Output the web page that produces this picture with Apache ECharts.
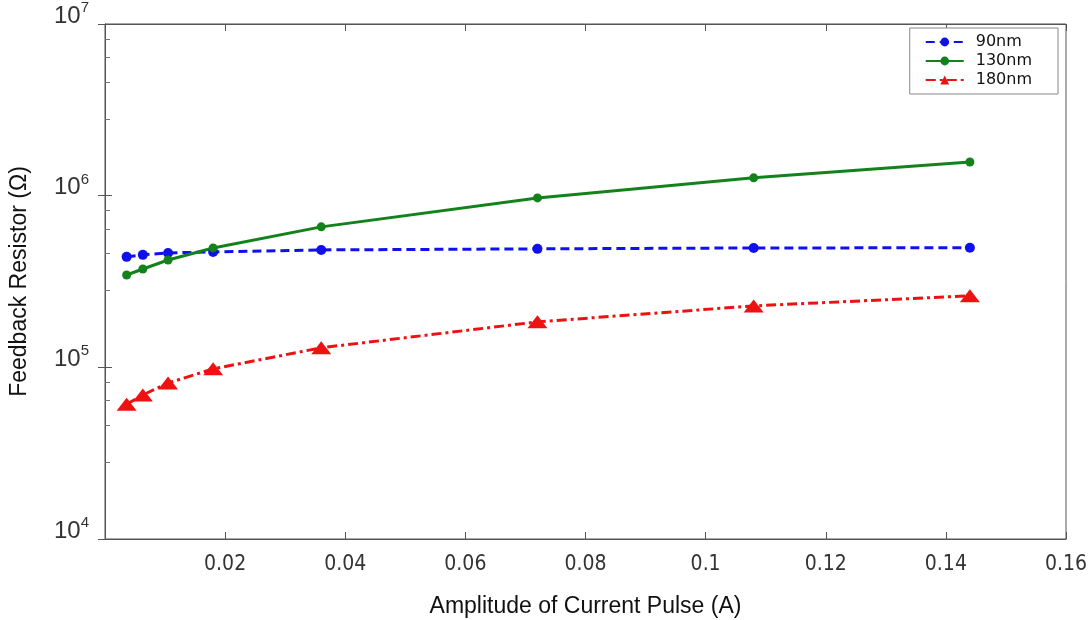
<!DOCTYPE html>
<html>
<head>
<meta charset="utf-8">
<script src="https://cdn.jsdelivr.net/npm/echarts@6/dist/echarts.min.js"></script>
<style>
  html, body { margin: 0; padding: 0; background: #fff; }
  #chart { width: 1091px; height: 620px; }
</style>
</head>
<body>
<div id="chart"></div>
<script>
// pulse amplitudes (A)
const amps = [0.0036, 0.0063, 0.0105, 0.018, 0.036, 0.072, 0.108, 0.144];
// feedback resistor values (ohm)
const r90 = [4.40e5, 4.52e5, 4.64e5, 4.70e5, 4.83e5, 4.90e5, 4.96e5, 4.97e5];
const r130 = [3.45e5, 3.74e5, 4.22e5, 4.96e5, 6.58e5, 9.7e5, 1.27e6, 1.57e6];
const r180 = [6.1e4, 6.9e4, 8.1e4, 9.8e4, 1.30e5, 1.84e5, 2.28e5, 2.61e5];
const seriesNames = ['90nm', '130nm', '180nm'];

const pairs = ys => amps.map((x, i) => [x, ys[i]]);

const chart = echarts.init(document.getElementById('chart'));

const tickFont = 'DejaVu Sans Condensed, Liberation Sans Narrow, sans-serif';
const textFont = 'Liberation Sans, Arial, sans-serif';

chart.setOption({
    animation: false,
    grid: {
        left: 105, right: 25, top: 24, bottom: 81,
        outerBoundsMode: 'none',
        show: true, borderColor: '#555', borderWidth: 1
    },
    legend: {
        orient: 'vertical',
        right: 33,
        top: 28,
        itemWidth: 38,
        itemHeight: 11,
        itemGap: 3,
        padding: [6, 26, 6, 15],
        borderColor: '#888',
        borderWidth: 1,
        backgroundColor: '#fff',
        textStyle: { fontFamily: 'DejaVu Sans, sans-serif', fontSize: 16, color: '#111', padding: [0, 0, 0, 7] },
        data: seriesNames
    },
    xAxis: [
        {
            type: 'value',
            min: 0,
            max: 0.16,
            interval: 0.02,
            name: 'Amplitude of Current Pulse (A)',
            nameLocation: 'middle',
            nameGap: 56,
            nameTextStyle: { fontFamily: textFont, fontSize: 23, color: '#111' },
            axisLine: { lineStyle: { color: '#555' } },
            axisTick: { inside: true, length: 7, lineStyle: { color: '#555' } },
            axisLabel: {
                showMinLabel: false,
                margin: 15,
                fontFamily: tickFont,
                fontSize: 21,
                color: '#333',
                formatter: v => String(+v.toFixed(2))
            },
            splitLine: { show: false }
        },
        {
            type: 'value', position: 'top', min: 0, max: 0.16, interval: 0.02,
            axisLine: { lineStyle: { color: '#555' } },
            axisTick: { inside: true, length: 7, lineStyle: { color: '#555' } },
            axisLabel: { show: false },
            splitLine: { show: false }
        }
    ],
    yAxis: [
        {
            type: 'log',
            min: 1e4,
            max: 1e7,
            logBase: 10,
            name: 'Feedback Resistor (Ω)',
            nameLocation: 'middle',
            nameGap: 74,
            nameTextStyle: { fontFamily: textFont, fontSize: 23, color: '#111' },
            axisLine: { lineStyle: { color: '#555' } },
            axisTick: { inside: true, length: 7, lineStyle: { color: '#555' } },
            minorTick: { show: true, splitNumber: 5, length: 5, lineStyle: { color: '#777' } },
            axisLabel: {
                margin: 16,
                color: '#333',
                formatter: v => '{b|10}{s|' + Math.round(Math.log10(v)) + '}',
                rich: {
                    b: { fontFamily: textFont, fontSize: 24, color: '#333', padding: [0, 0, 16, 0] },
                    s: { fontFamily: textFont, fontSize: 15, color: '#333', padding: [0, 0, 32, 0] }
                }
            },
            splitLine: { show: false }
        },
        {
            type: 'log', min: 1e4, max: 1e7, position: 'right',
            axisLine: { lineStyle: { color: '#555' } },
            axisTick: { inside: true, length: 7, lineStyle: { color: '#555' } },
            axisLabel: { show: false },
            splitLine: { show: false }
        }
    ],
    series: [
        {
            name: seriesNames[0],
            type: 'line',
            data: pairs(r90),
            symbol: 'circle',
            symbolSize: 10,
            itemStyle: { color: '#1010ee' },
            lineStyle: { color: '#1010ee', width: 3, type: [9, 5] }
        },
        {
            name: seriesNames[1],
            type: 'line',
            data: pairs(r130),
            symbol: 'circle',
            symbolSize: 9,
            itemStyle: { color: '#13821a' },
            lineStyle: { color: '#13821a', width: 3, type: 'solid' }
        },
        {
            name: seriesNames[2],
            type: 'line',
            data: pairs(r180),
            symbol: 'triangle',
            symbolSize: [20, 13],
            itemStyle: { color: '#ee1111' },
            lineStyle: { color: '#ee1111', width: 3, type: [10, 4, 3, 4] }
        }
    ]
});
</script>
</body>
</html>
